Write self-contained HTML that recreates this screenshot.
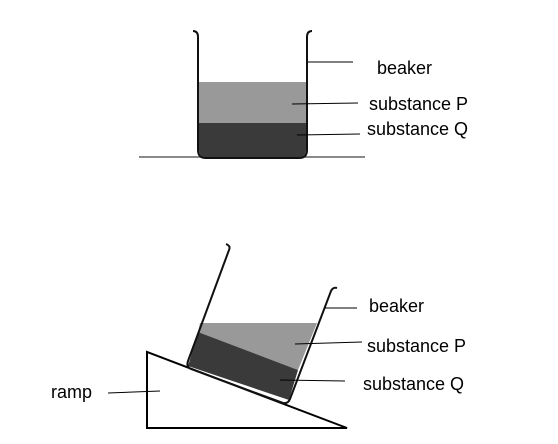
<!DOCTYPE html>
<html><head><meta charset="utf-8"><style>
html,body{margin:0;padding:0;background:#fff;}
svg{display:block;}
text{font-family:"Liberation Sans",Arial,sans-serif;font-size:18px;fill:#000;}
</style></head><body>
<svg width="558" height="444" viewBox="0 0 558 444">
<g>
<line x1="139" y1="157" x2="365" y2="157" stroke="#444" stroke-width="1.2"/>
<rect x="199" y="82" width="107" height="41" fill="#999"/>
<path d="M199 123 H306 V150 Q306 157 299 157 H206 Q199 157 199 150 Z" fill="#3a3a3a"/>
<path d="M193 31 Q198 31 198 37 V150 Q198 158 206 158 H299 Q307 158 307 150 V37 Q307 31 312 31" fill="none" stroke="#111" stroke-width="2"/>
<line x1="307" y1="62" x2="353" y2="62" stroke="#000"/>
<line x1="292" y1="104" x2="358" y2="103" stroke="#000"/>
<line x1="297" y1="135" x2="360" y2="134" stroke="#000"/>
<text x="377" y="74">beaker</text>
<text x="369" y="110">substance P</text>
<text x="367" y="135">substance Q</text>
</g>
<g>
<polygon points="147,352 147,428 347,428" fill="#fff" stroke="#000" stroke-width="2"/>
<polygon points="200,323 317,323 298,370 198,332" fill="#999"/>
<polygon points="198,332 298,370 289,400 188,366" fill="#3a3a3a"/>
<path d="M226 244 Q231 246 229 250 L188 361 Q186 367 191 369 L283 403 Q288 404 290 399 L331 291 Q333 287 337 288" fill="none" stroke="#111" stroke-width="2"/>
<line x1="325" y1="308" x2="357" y2="308" stroke="#000"/>
<line x1="295" y1="344" x2="362" y2="342" stroke="#000"/>
<line x1="280" y1="380" x2="345" y2="381" stroke="#000"/>
<line x1="108" y1="393" x2="160" y2="391" stroke="#000"/>
<text x="369" y="312">beaker</text>
<text x="367" y="352">substance P</text>
<text x="363" y="390">substance Q</text>
<text x="51" y="398">ramp</text>
</g>
</svg>
</body></html>
